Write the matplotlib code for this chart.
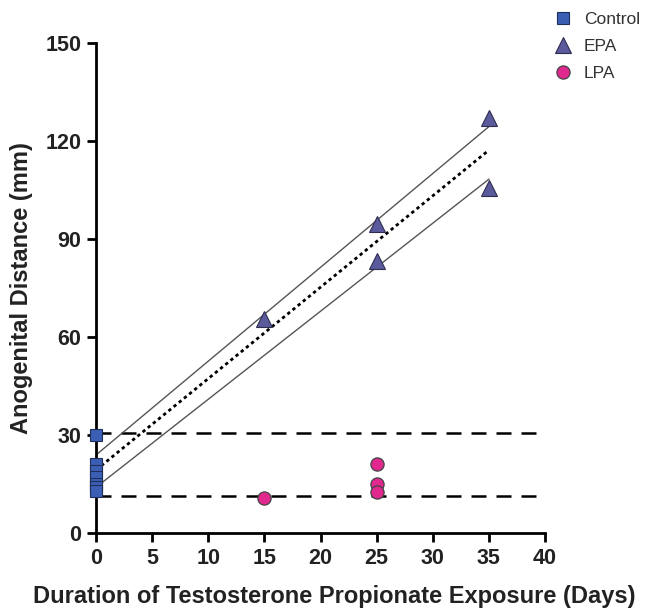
import matplotlib
matplotlib.use("Agg")
import matplotlib.pyplot as plt
import numpy as np

plt.rcParams['font.family'] = ['Liberation Sans', 'DejaVu Sans']

# Data
control_x = [0, 0, 0, 0, 0, 0, 0]
control_y = [30, 21, 19, 17, 15, 14, 13]
epa_x = [15, 25, 25, 35, 35]
epa_y = [65.5, 94.6, 83.2, 127, 105.7]
lpa_x = [15, 25, 25, 25]
lpa_y = [10.6, 21, 15, 12.6]
fit_x = [0, 35]
fit_mid = [19.3, 117.2]
fit_upper = [23.9, 124.4]
fit_lower = [14.0, 108.3]
ref_levels = [30.6, 11.3]
xticks = [0, 5, 10, 15, 20, 25, 30, 35, 40]
yticks = [0, 30, 60, 90, 120, 150]

fig = plt.figure(figsize=(6.45, 6.11), dpi=100)
ax = fig.add_axes([0.149, 0.1277, 0.696, 0.802])

for lv in ref_levels:
    ax.axhline(lv, color='black', lw=1.8, dashes=(6, 4), zorder=1)

ax.plot(fit_x, fit_upper, color='#555555', lw=1.0, zorder=2)
ax.plot(fit_x, fit_lower, color='#555555', lw=1.0, zorder=2)
ax.plot(fit_x, fit_mid, color='black', lw=2.0, ls=(0, (1.2, 1.2)), zorder=2)

ax.plot(control_x, control_y, 's', ms=9.3, mfc='#3b5fb5', mec='#1f2f5a', mew=0.8,
        ls='none', clip_on=False, zorder=4, label='Control')
ax.plot(epa_x, epa_y, '^', ms=12, mfc='#5a5a9c', mec='#2e2e50', mew=0.8,
        ls='none', clip_on=False, zorder=4, label='EPA')
ax.plot(lpa_x, lpa_y, 'o', ms=9.5, mfc='#e0288f', mec='#444444', mew=0.9,
        ls='none', clip_on=False, zorder=4, label='LPA')

ax.set_xlim(0, 40)
ax.set_ylim(0, 150)
ax.set_xticks(xticks)
ax.set_yticks(yticks)
for s in ['top', 'right']:
    ax.spines[s].set_visible(False)
for s in ['left', 'bottom']:
    ax.spines[s].set_linewidth(2)
ax.tick_params(direction='out', length=6.5, width=2, labelsize=15.5, pad=4)
for lab in ax.get_xticklabels() + ax.get_yticklabels():
    lab.set_fontweight('bold')
    lab.set_color('#222222')

ax.set_xlabel('Duration of Testosterone Propionate Exposure (Days)', fontsize=17,
              fontweight='bold', color='#222222')
ax.xaxis.set_label_coords(0.531, -0.106)
ax.set_ylabel('Anogenital Distance (mm)', fontsize=17, fontweight='bold',
              color='#222222')
ax.yaxis.set_label_coords(-0.14, 0.5)

leg = ax.legend(loc='upper left', bbox_to_anchor=(1.005, 1.078), frameon=False,
                fontsize=12.5, handlelength=1.0, handletextpad=0.7,
                labelspacing=0.68, borderaxespad=0)
for t in leg.get_texts():
    t.set_color('#333333')

fig.savefig('out.png', dpi=100)
